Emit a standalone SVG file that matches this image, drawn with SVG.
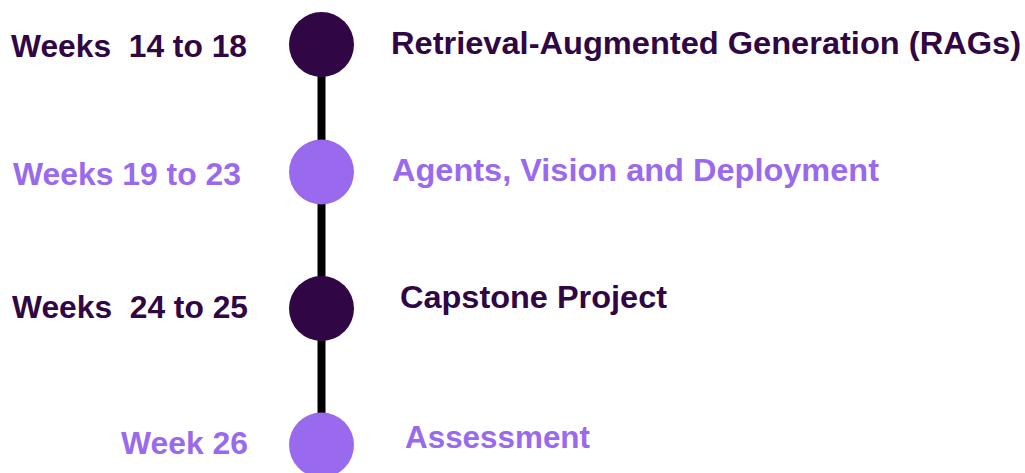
<svg xmlns="http://www.w3.org/2000/svg" width="1025" height="473" viewBox="0 0 1025 473">
  <style>
    .t { font-family: "Liberation Sans", Arial, sans-serif; font-weight: bold; font-size: 32px; }
    .dark { fill: #300644; }
    .light { fill: #9a6aee; }
  </style>
  <rect width="1025" height="473" fill="#ffffff"/>
  <g id="connectors">
    <line x1="321.5" y1="45" x2="321.5" y2="445" stroke="#000000" stroke-width="8"/>
  </g>
  <g id="node1">
    <circle cx="321.5" cy="44.5" r="32.5" class="dark"/>
    <text class="t dark" x="11" y="57" textLength="236" lengthAdjust="spacingAndGlyphs" xml:space="preserve">Weeks  14 to 18</text>
    <text class="t dark" x="391" y="54" textLength="630" lengthAdjust="spacingAndGlyphs">Retrieval-Augmented Generation (RAGs)</text>
  </g>
  <g id="node2">
    <circle cx="321.5" cy="172" r="32.5" class="light"/>
    <text class="t light" x="13" y="185" textLength="228" lengthAdjust="spacingAndGlyphs">Weeks 19 to 23</text>
    <text class="t light" x="392" y="181" textLength="487" lengthAdjust="spacingAndGlyphs">Agents, Vision and Deployment</text>
  </g>
  <g id="node3">
    <circle cx="321.5" cy="308.5" r="32.5" class="dark"/>
    <text class="t dark" x="12" y="318" textLength="236" lengthAdjust="spacingAndGlyphs" xml:space="preserve">Weeks  24 to 25</text>
    <text class="t dark" x="400" y="308" textLength="267" lengthAdjust="spacingAndGlyphs">Capstone Project</text>
  </g>
  <g id="node4">
    <circle cx="321.5" cy="445" r="32.5" class="light"/>
    <text class="t light" x="121" y="454" textLength="127" lengthAdjust="spacingAndGlyphs">Week 26</text>
    <text class="t light" x="405" y="448" textLength="185" lengthAdjust="spacingAndGlyphs">Assessment</text>
  </g>
</svg>
